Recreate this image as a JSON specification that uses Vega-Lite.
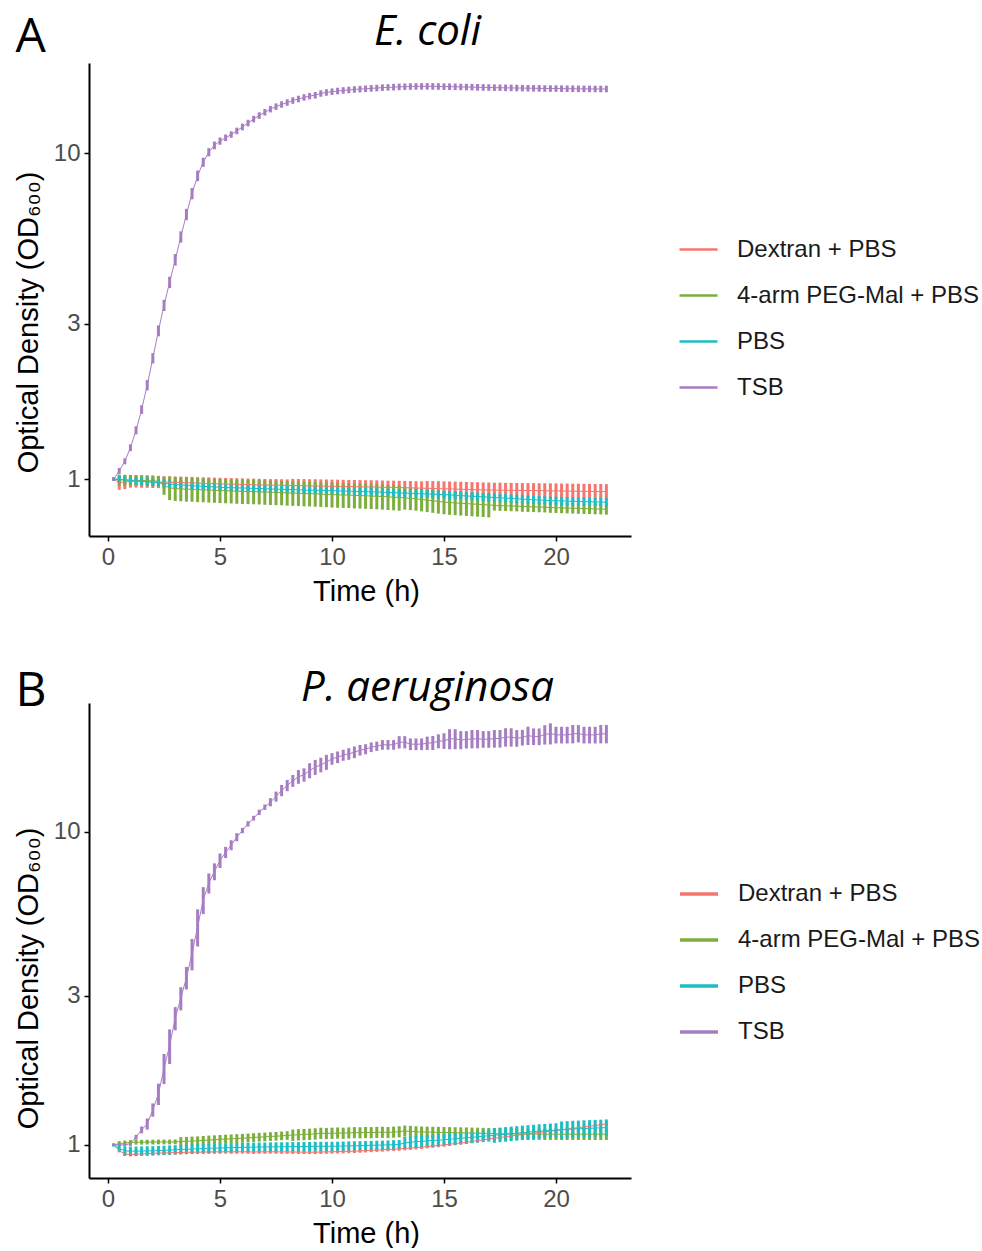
{
"$schema": "https://vega.github.io/schema/vega-lite/v6.json",
"background": "white",
"padding": {"left": 14, "top": 10, "right": 0, "bottom": 0},
"config": {
 "view": {"stroke": null},
 "axis": {"grid": false, "domainColor": "#000", "domainWidth": 2, "tickColor": "#000", "tickWidth": 1.5, "tickSize": 5, "labelColor": "#4D4D4D", "labelFont": "Liberation Sans", "labelFontSize": 24, "labelPadding": 4, "labelFlush": false, "labelOverlap": false, "titleFont": "Liberation Sans", "titleFontSize": 29, "titleFontWeight": "normal", "titleColor": "#000"},
 "legend": {"symbolType": "stroke", "symbolSize": 1444, "symbolStrokeWidth": 3, "labelFont": "Liberation Sans", "labelFontSize": 24, "labelColor": "#1A1A1A", "labelLimit": 400, "labelOffset": 18, "rowPadding": 13, "padding": 0, "symbolOpacity": 1}
},
"datasets": {
"ec": [
{"g":"D","t":0.25,"m":1,"e":0.012},{"g":"D","t":0.5,"m":0.975,"e":0.048},{"g":"D","t":0.75,"m":0.98,"e":0.048},{"g":"D","t":1,"m":0.983,"e":0.042},{"g":"D","t":1.25,"m":0.984,"e":0.042},{"g":"D","t":1.5,"m":0.983,"e":0.042},{"g":"D","t":1.75,"m":0.982,"e":0.042},{"g":"D","t":2,"m":0.981,"e":0.042},{"g":"D","t":2.25,"m":0.98,"e":0.042},{"g":"D","t":2.5,"m":0.979,"e":0.042},
{"g":"D","t":2.75,"m":0.978,"e":0.042},{"g":"D","t":3,"m":0.977,"e":0.042},{"g":"D","t":3.25,"m":0.976,"e":0.042},{"g":"D","t":3.5,"m":0.975,"e":0.042},{"g":"D","t":3.75,"m":0.974,"e":0.042},{"g":"D","t":4,"m":0.972,"e":0.042},{"g":"D","t":4.25,"m":0.971,"e":0.042},{"g":"D","t":4.5,"m":0.97,"e":0.042},{"g":"D","t":4.75,"m":0.968,"e":0.042},{"g":"D","t":5,"m":0.967,"e":0.042},
{"g":"D","t":5.25,"m":0.966,"e":0.042},{"g":"D","t":5.5,"m":0.965,"e":0.042},{"g":"D","t":5.75,"m":0.964,"e":0.042},{"g":"D","t":6,"m":0.963,"e":0.042},{"g":"D","t":6.25,"m":0.962,"e":0.042},{"g":"D","t":6.5,"m":0.961,"e":0.042},{"g":"D","t":6.75,"m":0.96,"e":0.042},{"g":"D","t":7,"m":0.959,"e":0.042},{"g":"D","t":7.25,"m":0.958,"e":0.042},{"g":"D","t":7.5,"m":0.958,"e":0.042},
{"g":"D","t":7.75,"m":0.957,"e":0.042},{"g":"D","t":8,"m":0.956,"e":0.042},{"g":"D","t":8.25,"m":0.955,"e":0.046},{"g":"D","t":8.5,"m":0.955,"e":0.046},{"g":"D","t":8.75,"m":0.954,"e":0.046},{"g":"D","t":9,"m":0.953,"e":0.046},{"g":"D","t":9.25,"m":0.953,"e":0.046},{"g":"D","t":9.5,"m":0.952,"e":0.046},{"g":"D","t":9.75,"m":0.951,"e":0.046},{"g":"D","t":10,"m":0.95,"e":0.046},
{"g":"D","t":10.25,"m":0.95,"e":0.046},{"g":"D","t":10.5,"m":0.949,"e":0.046},{"g":"D","t":10.75,"m":0.948,"e":0.046},{"g":"D","t":11,"m":0.948,"e":0.046},{"g":"D","t":11.25,"m":0.947,"e":0.046},{"g":"D","t":11.5,"m":0.946,"e":0.046},{"g":"D","t":11.75,"m":0.946,"e":0.046},{"g":"D","t":12,"m":0.945,"e":0.046},{"g":"D","t":12.25,"m":0.944,"e":0.046},{"g":"D","t":12.5,"m":0.943,"e":0.046},
{"g":"D","t":12.75,"m":0.943,"e":0.046},{"g":"D","t":13,"m":0.942,"e":0.046},{"g":"D","t":13.25,"m":0.941,"e":0.046},{"g":"D","t":13.5,"m":0.94,"e":0.046},{"g":"D","t":13.75,"m":0.939,"e":0.046},{"g":"D","t":14,"m":0.938,"e":0.046},{"g":"D","t":14.25,"m":0.937,"e":0.05},{"g":"D","t":14.5,"m":0.936,"e":0.05},{"g":"D","t":14.75,"m":0.935,"e":0.05},{"g":"D","t":15,"m":0.934,"e":0.05},
{"g":"D","t":15.25,"m":0.933,"e":0.05},{"g":"D","t":15.5,"m":0.932,"e":0.05},{"g":"D","t":15.75,"m":0.931,"e":0.05},{"g":"D","t":16,"m":0.93,"e":0.05},{"g":"D","t":16.25,"m":0.929,"e":0.05},{"g":"D","t":16.5,"m":0.928,"e":0.05},{"g":"D","t":16.75,"m":0.927,"e":0.05},{"g":"D","t":17,"m":0.926,"e":0.05},{"g":"D","t":17.25,"m":0.925,"e":0.05},{"g":"D","t":17.5,"m":0.925,"e":0.05},
{"g":"D","t":17.75,"m":0.924,"e":0.05},{"g":"D","t":18,"m":0.924,"e":0.05},{"g":"D","t":18.25,"m":0.923,"e":0.05},{"g":"D","t":18.5,"m":0.923,"e":0.05},{"g":"D","t":18.75,"m":0.922,"e":0.05},{"g":"D","t":19,"m":0.922,"e":0.05},{"g":"D","t":19.25,"m":0.921,"e":0.05},{"g":"D","t":19.5,"m":0.921,"e":0.05},{"g":"D","t":19.75,"m":0.92,"e":0.05},{"g":"D","t":20,"m":0.92,"e":0.05},
{"g":"D","t":20.25,"m":0.919,"e":0.05},{"g":"D","t":20.5,"m":0.919,"e":0.05},{"g":"D","t":20.75,"m":0.918,"e":0.05},{"g":"D","t":21,"m":0.918,"e":0.05},{"g":"D","t":21.25,"m":0.917,"e":0.05},{"g":"D","t":21.5,"m":0.917,"e":0.05},{"g":"D","t":21.75,"m":0.916,"e":0.05},{"g":"D","t":22,"m":0.916,"e":0.05},{"g":"D","t":22.25,"m":0.915,"e":0.05},
{"g":"P","t":0.25,"m":1,"e":0.01},{"g":"P","t":0.5,"m":0.995,"e":0.038},{"g":"P","t":0.75,"m":0.993,"e":0.038},{"g":"P","t":1,"m":0.992,"e":0.038},{"g":"P","t":1.25,"m":0.991,"e":0.038},{"g":"P","t":1.5,"m":0.99,"e":0.038},{"g":"P","t":1.75,"m":0.989,"e":0.038},{"g":"P","t":2,"m":0.988,"e":0.038},{"g":"P","t":2.25,"m":0.985,"e":0.038},{"g":"P","t":2.5,"m":0.955,"e":0.06},
{"g":"P","t":2.75,"m":0.94,"e":0.078},{"g":"P","t":3,"m":0.935,"e":0.078},{"g":"P","t":3.25,"m":0.933,"e":0.078},{"g":"P","t":3.5,"m":0.931,"e":0.078},{"g":"P","t":3.75,"m":0.93,"e":0.078},{"g":"P","t":4,"m":0.928,"e":0.078},{"g":"P","t":4.25,"m":0.927,"e":0.078},{"g":"P","t":4.5,"m":0.925,"e":0.078},{"g":"P","t":4.75,"m":0.924,"e":0.078},{"g":"P","t":5,"m":0.922,"e":0.078},
{"g":"P","t":5.25,"m":0.921,"e":0.078},{"g":"P","t":5.5,"m":0.92,"e":0.078},{"g":"P","t":5.75,"m":0.918,"e":0.078},{"g":"P","t":6,"m":0.917,"e":0.078},{"g":"P","t":6.25,"m":0.916,"e":0.078},{"g":"P","t":6.5,"m":0.915,"e":0.078},{"g":"P","t":6.75,"m":0.914,"e":0.078},{"g":"P","t":7,"m":0.912,"e":0.078},{"g":"P","t":7.25,"m":0.911,"e":0.078},{"g":"P","t":7.5,"m":0.91,"e":0.078},
{"g":"P","t":7.75,"m":0.909,"e":0.078},{"g":"P","t":8,"m":0.907,"e":0.078},{"g":"P","t":8.25,"m":0.906,"e":0.078},{"g":"P","t":8.5,"m":0.905,"e":0.078},{"g":"P","t":8.75,"m":0.903,"e":0.078},{"g":"P","t":9,"m":0.902,"e":0.078},{"g":"P","t":9.25,"m":0.901,"e":0.078},{"g":"P","t":9.5,"m":0.899,"e":0.078},{"g":"P","t":9.75,"m":0.898,"e":0.078},{"g":"P","t":10,"m":0.896,"e":0.078},
{"g":"P","t":10.25,"m":0.895,"e":0.078},{"g":"P","t":10.5,"m":0.894,"e":0.078},{"g":"P","t":10.75,"m":0.893,"e":0.078},{"g":"P","t":11,"m":0.891,"e":0.078},{"g":"P","t":11.25,"m":0.89,"e":0.078},{"g":"P","t":11.5,"m":0.889,"e":0.078},{"g":"P","t":11.75,"m":0.887,"e":0.078},{"g":"P","t":12,"m":0.886,"e":0.078},{"g":"P","t":12.25,"m":0.884,"e":0.078},{"g":"P","t":12.5,"m":0.882,"e":0.078},
{"g":"P","t":12.75,"m":0.88,"e":0.078},{"g":"P","t":13,"m":0.878,"e":0.078},{"g":"P","t":13.25,"m":0.876,"e":0.07},{"g":"P","t":13.5,"m":0.873,"e":0.07},{"g":"P","t":13.75,"m":0.87,"e":0.07},{"g":"P","t":14,"m":0.866,"e":0.07},{"g":"P","t":14.25,"m":0.862,"e":0.07},{"g":"P","t":14.5,"m":0.858,"e":0.07},{"g":"P","t":14.75,"m":0.854,"e":0.07},{"g":"P","t":15,"m":0.85,"e":0.07},
{"g":"P","t":15.25,"m":0.847,"e":0.07},{"g":"P","t":15.5,"m":0.845,"e":0.07},{"g":"P","t":15.75,"m":0.843,"e":0.07},{"g":"P","t":16,"m":0.841,"e":0.07},{"g":"P","t":16.25,"m":0.839,"e":0.07},{"g":"P","t":16.5,"m":0.837,"e":0.07},{"g":"P","t":16.75,"m":0.835,"e":0.07},{"g":"P","t":17,"m":0.833,"e":0.07},{"g":"P","t":17.25,"m":0.831,"e":0.03},{"g":"P","t":17.5,"m":0.829,"e":0.03},
{"g":"P","t":17.75,"m":0.828,"e":0.03},{"g":"P","t":18,"m":0.827,"e":0.03},{"g":"P","t":18.25,"m":0.826,"e":0.03},{"g":"P","t":18.5,"m":0.824,"e":0.03},{"g":"P","t":18.75,"m":0.823,"e":0.03},{"g":"P","t":19,"m":0.822,"e":0.03},{"g":"P","t":19.25,"m":0.821,"e":0.03},{"g":"P","t":19.5,"m":0.82,"e":0.03},{"g":"P","t":19.75,"m":0.818,"e":0.03},{"g":"P","t":20,"m":0.817,"e":0.03},
{"g":"P","t":20.25,"m":0.816,"e":0.03},{"g":"P","t":20.5,"m":0.815,"e":0.03},{"g":"P","t":20.75,"m":0.814,"e":0.03},{"g":"P","t":21,"m":0.813,"e":0.03},{"g":"P","t":21.25,"m":0.812,"e":0.03},{"g":"P","t":21.5,"m":0.811,"e":0.03},{"g":"P","t":21.75,"m":0.81,"e":0.03},{"g":"P","t":22,"m":0.809,"e":0.03},{"g":"P","t":22.25,"m":0.808,"e":0.03},
{"g":"S","t":0.25,"m":1,"e":0.012},{"g":"S","t":0.5,"m":0.998,"e":0.025},{"g":"S","t":0.75,"m":0.995,"e":0.025},{"g":"S","t":1,"m":0.991,"e":0.025},{"g":"S","t":1.25,"m":0.988,"e":0.025},{"g":"S","t":1.5,"m":0.985,"e":0.025},{"g":"S","t":1.75,"m":0.981,"e":0.025},{"g":"S","t":2,"m":0.977,"e":0.025},{"g":"S","t":2.25,"m":0.974,"e":0.025},{"g":"S","t":2.5,"m":0.97,"e":0.025},
{"g":"S","t":2.75,"m":0.966,"e":0.025},{"g":"S","t":3,"m":0.962,"e":0.025},{"g":"S","t":3.25,"m":0.96,"e":0.025},{"g":"S","t":3.5,"m":0.958,"e":0.025},{"g":"S","t":3.75,"m":0.955,"e":0.025},{"g":"S","t":4,"m":0.952,"e":0.025},{"g":"S","t":4.25,"m":0.95,"e":0.025},{"g":"S","t":4.5,"m":0.948,"e":0.025},{"g":"S","t":4.75,"m":0.946,"e":0.025},{"g":"S","t":5,"m":0.944,"e":0.025},
{"g":"S","t":5.25,"m":0.942,"e":0.025},{"g":"S","t":5.5,"m":0.941,"e":0.025},{"g":"S","t":5.75,"m":0.94,"e":0.025},{"g":"S","t":6,"m":0.939,"e":0.025},{"g":"S","t":6.25,"m":0.938,"e":0.025},{"g":"S","t":6.5,"m":0.936,"e":0.025},{"g":"S","t":6.75,"m":0.935,"e":0.025},{"g":"S","t":7,"m":0.934,"e":0.025},{"g":"S","t":7.25,"m":0.933,"e":0.025},{"g":"S","t":7.5,"m":0.931,"e":0.025},
{"g":"S","t":7.75,"m":0.93,"e":0.025},{"g":"S","t":8,"m":0.929,"e":0.025},{"g":"S","t":8.25,"m":0.928,"e":0.025},{"g":"S","t":8.5,"m":0.927,"e":0.025},{"g":"S","t":8.75,"m":0.926,"e":0.025},{"g":"S","t":9,"m":0.925,"e":0.025},{"g":"S","t":9.25,"m":0.924,"e":0.025},{"g":"S","t":9.5,"m":0.923,"e":0.025},{"g":"S","t":9.75,"m":0.922,"e":0.025},{"g":"S","t":10,"m":0.921,"e":0.025},
{"g":"S","t":10.25,"m":0.92,"e":0.025},{"g":"S","t":10.5,"m":0.919,"e":0.025},{"g":"S","t":10.75,"m":0.918,"e":0.025},{"g":"S","t":11,"m":0.917,"e":0.025},{"g":"S","t":11.25,"m":0.916,"e":0.025},{"g":"S","t":11.5,"m":0.915,"e":0.025},{"g":"S","t":11.75,"m":0.914,"e":0.025},{"g":"S","t":12,"m":0.913,"e":0.025},{"g":"S","t":12.25,"m":0.911,"e":0.025},{"g":"S","t":12.5,"m":0.91,"e":0.025},
{"g":"S","t":12.75,"m":0.909,"e":0.025},{"g":"S","t":13,"m":0.907,"e":0.025},{"g":"S","t":13.25,"m":0.906,"e":0.025},{"g":"S","t":13.5,"m":0.905,"e":0.025},{"g":"S","t":13.75,"m":0.903,"e":0.025},{"g":"S","t":14,"m":0.902,"e":0.025},{"g":"S","t":14.25,"m":0.9,"e":0.025},{"g":"S","t":14.5,"m":0.899,"e":0.025},{"g":"S","t":14.75,"m":0.897,"e":0.025},{"g":"S","t":15,"m":0.896,"e":0.025},
{"g":"S","t":15.25,"m":0.894,"e":0.025},{"g":"S","t":15.5,"m":0.892,"e":0.025},{"g":"S","t":15.75,"m":0.89,"e":0.025},{"g":"S","t":16,"m":0.888,"e":0.025},{"g":"S","t":16.25,"m":0.886,"e":0.025},{"g":"S","t":16.5,"m":0.884,"e":0.025},{"g":"S","t":16.75,"m":0.882,"e":0.025},{"g":"S","t":17,"m":0.88,"e":0.025},{"g":"S","t":17.25,"m":0.878,"e":0.025},{"g":"S","t":17.5,"m":0.876,"e":0.025},
{"g":"S","t":17.75,"m":0.874,"e":0.025},{"g":"S","t":18,"m":0.872,"e":0.025},{"g":"S","t":18.25,"m":0.87,"e":0.025},{"g":"S","t":18.5,"m":0.868,"e":0.025},{"g":"S","t":18.75,"m":0.866,"e":0.025},{"g":"S","t":19,"m":0.864,"e":0.025},{"g":"S","t":19.25,"m":0.862,"e":0.025},{"g":"S","t":19.5,"m":0.861,"e":0.025},{"g":"S","t":19.75,"m":0.859,"e":0.025},{"g":"S","t":20,"m":0.858,"e":0.025},
{"g":"S","t":20.25,"m":0.857,"e":0.025},{"g":"S","t":20.5,"m":0.856,"e":0.025},{"g":"S","t":20.75,"m":0.855,"e":0.025},{"g":"S","t":21,"m":0.854,"e":0.025},{"g":"S","t":21.25,"m":0.853,"e":0.025},{"g":"S","t":21.5,"m":0.852,"e":0.025},{"g":"S","t":21.75,"m":0.851,"e":0.025},{"g":"S","t":22,"m":0.85,"e":0.025},{"g":"S","t":22.25,"m":0.849,"e":0.025},
{"g":"T","t":0.25,"m":1,"e":0.012},{"g":"T","t":0.5,"m":1.06,"e":0.022},{"g":"T","t":0.75,"m":1.134,"e":0.024},{"g":"T","t":1,"m":1.248,"e":0.03},{"g":"T","t":1.25,"m":1.412,"e":0.04},{"g":"T","t":1.5,"m":1.635,"e":0.05},{"g":"T","t":1.75,"m":1.942,"e":0.07},{"g":"T","t":2,"m":2.349,"e":0.085},{"g":"T","t":2.25,"m":2.852,"e":0.11},{"g":"T","t":2.5,"m":3.413,"e":0.135},
{"g":"T","t":2.75,"m":4.017,"e":0.16},{"g":"T","t":3,"m":4.71,"e":0.19},{"g":"T","t":3.25,"m":5.536,"e":0.22},{"g":"T","t":3.5,"m":6.486,"e":0.26},{"g":"T","t":3.75,"m":7.516,"e":0.3},{"g":"T","t":4,"m":8.522,"e":0.32},{"g":"T","t":4.25,"m":9.377,"e":0.3},{"g":"T","t":4.5,"m":10.066,"e":0.29},{"g":"T","t":4.75,"m":10.563,"e":0.29},{"g":"T","t":5,"m":10.89,"e":0.28},
{"g":"T","t":5.25,"m":11.145,"e":0.26},{"g":"T","t":5.5,"m":11.405,"e":0.26},{"g":"T","t":5.75,"m":11.7,"e":0.27},{"g":"T","t":6,"m":12.03,"e":0.28},{"g":"T","t":6.25,"m":12.37,"e":0.285},{"g":"T","t":6.5,"m":12.72,"e":0.29},{"g":"T","t":6.75,"m":13.04,"e":0.3},{"g":"T","t":7,"m":13.35,"e":0.31},{"g":"T","t":7.25,"m":13.64,"e":0.31},{"g":"T","t":7.5,"m":13.89,"e":0.32},
{"g":"T","t":7.75,"m":14.1,"e":0.32},{"g":"T","t":8,"m":14.3,"e":0.33},{"g":"T","t":8.25,"m":14.5,"e":0.33},{"g":"T","t":8.5,"m":14.66,"e":0.34},{"g":"T","t":8.75,"m":14.82,"e":0.34},{"g":"T","t":9,"m":14.96,"e":0.34},{"g":"T","t":9.25,"m":15.05,"e":0.35},{"g":"T","t":9.5,"m":15.24,"e":0.35},{"g":"T","t":9.75,"m":15.35,"e":0.355},{"g":"T","t":10,"m":15.44,"e":0.355},
{"g":"T","t":10.25,"m":15.51,"e":0.36},{"g":"T","t":10.5,"m":15.57,"e":0.36},{"g":"T","t":10.75,"m":15.63,"e":0.36},{"g":"T","t":11,"m":15.68,"e":0.36},{"g":"T","t":11.25,"m":15.72,"e":0.36},{"g":"T","t":11.5,"m":15.76,"e":0.365},{"g":"T","t":11.75,"m":15.8,"e":0.365},{"g":"T","t":12,"m":15.84,"e":0.365},{"g":"T","t":12.25,"m":15.88,"e":0.365},{"g":"T","t":12.5,"m":15.91,"e":0.365},
{"g":"T","t":12.75,"m":15.94,"e":0.37},{"g":"T","t":13,"m":15.97,"e":0.37},{"g":"T","t":13.25,"m":15.99,"e":0.37},{"g":"T","t":13.5,"m":16.01,"e":0.37},{"g":"T","t":13.75,"m":16.02,"e":0.37},{"g":"T","t":14,"m":16.03,"e":0.37},{"g":"T","t":14.25,"m":16.03,"e":0.37},{"g":"T","t":14.5,"m":16.02,"e":0.37},{"g":"T","t":14.75,"m":16.01,"e":0.37},{"g":"T","t":15,"m":16,"e":0.37},
{"g":"T","t":15.25,"m":15.99,"e":0.37},{"g":"T","t":15.5,"m":15.98,"e":0.37},{"g":"T","t":15.75,"m":15.96,"e":0.37},{"g":"T","t":16,"m":15.95,"e":0.37},{"g":"T","t":16.25,"m":15.94,"e":0.37},{"g":"T","t":16.5,"m":15.92,"e":0.37},{"g":"T","t":16.75,"m":15.91,"e":0.37},{"g":"T","t":17,"m":15.9,"e":0.365},{"g":"T","t":17.25,"m":15.88,"e":0.365},{"g":"T","t":17.5,"m":15.87,"e":0.365},
{"g":"T","t":17.75,"m":15.86,"e":0.365},{"g":"T","t":18,"m":15.85,"e":0.365},{"g":"T","t":18.25,"m":15.84,"e":0.365},{"g":"T","t":18.5,"m":15.83,"e":0.365},{"g":"T","t":18.75,"m":15.82,"e":0.365},{"g":"T","t":19,"m":15.81,"e":0.365},{"g":"T","t":19.25,"m":15.8,"e":0.365},{"g":"T","t":19.5,"m":15.79,"e":0.365},{"g":"T","t":19.75,"m":15.78,"e":0.365},{"g":"T","t":20,"m":15.78,"e":0.365},
{"g":"T","t":20.25,"m":15.77,"e":0.365},{"g":"T","t":20.5,"m":15.76,"e":0.365},{"g":"T","t":20.75,"m":15.76,"e":0.365},{"g":"T","t":21,"m":15.75,"e":0.365},{"g":"T","t":21.25,"m":15.75,"e":0.365},{"g":"T","t":21.5,"m":15.74,"e":0.365},{"g":"T","t":21.75,"m":15.74,"e":0.365},{"g":"T","t":22,"m":15.73,"e":0.365},{"g":"T","t":22.25,"m":15.73,"e":0.365}
],
"pa": [
{"g":"D","t":0.25,"m":1,"e":0.008},{"g":"D","t":0.5,"m":0.96,"e":0.013},{"g":"D","t":0.75,"m":0.935,"e":0.013},{"g":"D","t":1,"m":0.932,"e":0.013},{"g":"D","t":1.25,"m":0.934,"e":0.013},{"g":"D","t":1.5,"m":0.936,"e":0.013},{"g":"D","t":1.75,"m":0.938,"e":0.013},{"g":"D","t":2,"m":0.94,"e":0.013},{"g":"D","t":2.25,"m":0.942,"e":0.013},{"g":"D","t":2.5,"m":0.943,"e":0.013},
{"g":"D","t":2.75,"m":0.944,"e":0.013},{"g":"D","t":3,"m":0.945,"e":0.013},{"g":"D","t":3.25,"m":0.946,"e":0.013},{"g":"D","t":3.5,"m":0.947,"e":0.013},{"g":"D","t":3.75,"m":0.948,"e":0.013},{"g":"D","t":4,"m":0.948,"e":0.013},{"g":"D","t":4.25,"m":0.949,"e":0.013},{"g":"D","t":4.5,"m":0.949,"e":0.013},{"g":"D","t":4.75,"m":0.95,"e":0.013},{"g":"D","t":5,"m":0.95,"e":0.013},
{"g":"D","t":5.25,"m":0.951,"e":0.013},{"g":"D","t":5.5,"m":0.95,"e":0.013},{"g":"D","t":5.75,"m":0.95,"e":0.013},{"g":"D","t":6,"m":0.951,"e":0.013},{"g":"D","t":6.25,"m":0.95,"e":0.013},{"g":"D","t":6.5,"m":0.949,"e":0.013},{"g":"D","t":6.75,"m":0.95,"e":0.013},{"g":"D","t":7,"m":0.95,"e":0.013},{"g":"D","t":7.25,"m":0.951,"e":0.013},{"g":"D","t":7.5,"m":0.95,"e":0.013},
{"g":"D","t":7.75,"m":0.95,"e":0.013},{"g":"D","t":8,"m":0.95,"e":0.013},{"g":"D","t":8.25,"m":0.949,"e":0.013},{"g":"D","t":8.5,"m":0.949,"e":0.013},{"g":"D","t":8.75,"m":0.948,"e":0.013},{"g":"D","t":9,"m":0.948,"e":0.013},{"g":"D","t":9.25,"m":0.948,"e":0.013},{"g":"D","t":9.5,"m":0.949,"e":0.013},{"g":"D","t":9.75,"m":0.95,"e":0.013},{"g":"D","t":10,"m":0.951,"e":0.013},
{"g":"D","t":10.25,"m":0.952,"e":0.013},{"g":"D","t":10.5,"m":0.953,"e":0.013},{"g":"D","t":10.75,"m":0.954,"e":0.013},{"g":"D","t":11,"m":0.955,"e":0.013},{"g":"D","t":11.25,"m":0.957,"e":0.013},{"g":"D","t":11.5,"m":0.959,"e":0.013},{"g":"D","t":11.75,"m":0.961,"e":0.013},{"g":"D","t":12,"m":0.963,"e":0.013},{"g":"D","t":12.25,"m":0.965,"e":0.013},{"g":"D","t":12.5,"m":0.967,"e":0.013},
{"g":"D","t":12.75,"m":0.969,"e":0.013},{"g":"D","t":13,"m":0.971,"e":0.013},{"g":"D","t":13.25,"m":0.974,"e":0.013},{"g":"D","t":13.5,"m":0.977,"e":0.013},{"g":"D","t":13.75,"m":0.98,"e":0.013},{"g":"D","t":14,"m":0.984,"e":0.013},{"g":"D","t":14.25,"m":0.988,"e":0.013},{"g":"D","t":14.5,"m":0.992,"e":0.013},{"g":"D","t":14.75,"m":0.996,"e":0.013},{"g":"D","t":15,"m":1,"e":0.013},
{"g":"D","t":15.25,"m":1.005,"e":0.013},{"g":"D","t":15.5,"m":1.01,"e":0.013},{"g":"D","t":15.75,"m":1.015,"e":0.013},{"g":"D","t":16,"m":1.02,"e":0.013},{"g":"D","t":16.25,"m":1.026,"e":0.013},{"g":"D","t":16.5,"m":1.032,"e":0.013},{"g":"D","t":16.75,"m":1.038,"e":0.013},{"g":"D","t":17,"m":1.044,"e":0.013},{"g":"D","t":17.25,"m":1.05,"e":0.013},{"g":"D","t":17.5,"m":1.056,"e":0.013},
{"g":"D","t":17.75,"m":1.062,"e":0.013},{"g":"D","t":18,"m":1.068,"e":0.013},{"g":"D","t":18.25,"m":1.074,"e":0.013},{"g":"D","t":18.5,"m":1.079,"e":0.013},{"g":"D","t":18.75,"m":1.085,"e":0.013},{"g":"D","t":19,"m":1.09,"e":0.013},{"g":"D","t":19.25,"m":1.096,"e":0.013},{"g":"D","t":19.5,"m":1.101,"e":0.013},{"g":"D","t":19.75,"m":1.107,"e":0.013},{"g":"D","t":20,"m":1.112,"e":0.013},
{"g":"D","t":20.25,"m":1.118,"e":0.013},{"g":"D","t":20.5,"m":1.123,"e":0.013},{"g":"D","t":20.75,"m":1.129,"e":0.013},{"g":"D","t":21,"m":1.135,"e":0.013},{"g":"D","t":21.25,"m":1.141,"e":0.013},{"g":"D","t":21.5,"m":1.147,"e":0.013},{"g":"D","t":21.75,"m":1.153,"e":0.013},{"g":"D","t":22,"m":1.16,"e":0.013},{"g":"D","t":22.25,"m":1.166,"e":0.013},
{"g":"P","t":0.25,"m":1,"e":0.008},{"g":"P","t":0.5,"m":1.01,"e":0.018},{"g":"P","t":0.75,"m":1.015,"e":0.018},{"g":"P","t":1,"m":1.018,"e":0.018},{"g":"P","t":1.25,"m":1.02,"e":0.018},{"g":"P","t":1.5,"m":1.02,"e":0.018},{"g":"P","t":1.75,"m":1.021,"e":0.018},{"g":"P","t":2,"m":1.021,"e":0.018},{"g":"P","t":2.25,"m":1.022,"e":0.018},{"g":"P","t":2.5,"m":1.022,"e":0.018},
{"g":"P","t":2.75,"m":1.022,"e":0.018},{"g":"P","t":3,"m":1.023,"e":0.018},{"g":"P","t":3.25,"m":1.025,"e":0.034},{"g":"P","t":3.5,"m":1.027,"e":0.034},{"g":"P","t":3.75,"m":1.029,"e":0.034},{"g":"P","t":4,"m":1.031,"e":0.034},{"g":"P","t":4.25,"m":1.034,"e":0.034},{"g":"P","t":4.5,"m":1.037,"e":0.034},{"g":"P","t":4.75,"m":1.039,"e":0.034},{"g":"P","t":5,"m":1.042,"e":0.034},
{"g":"P","t":5.25,"m":1.044,"e":0.034},{"g":"P","t":5.5,"m":1.046,"e":0.034},{"g":"P","t":5.75,"m":1.048,"e":0.034},{"g":"P","t":6,"m":1.05,"e":0.034},{"g":"P","t":6.25,"m":1.053,"e":0.034},{"g":"P","t":6.5,"m":1.056,"e":0.034},{"g":"P","t":6.75,"m":1.059,"e":0.034},{"g":"P","t":7,"m":1.061,"e":0.034},{"g":"P","t":7.25,"m":1.064,"e":0.034},{"g":"P","t":7.5,"m":1.066,"e":0.034},
{"g":"P","t":7.75,"m":1.069,"e":0.034},{"g":"P","t":8,"m":1.072,"e":0.034},{"g":"P","t":8.25,"m":1.075,"e":0.045},{"g":"P","t":8.5,"m":1.078,"e":0.045},{"g":"P","t":8.75,"m":1.08,"e":0.045},{"g":"P","t":9,"m":1.082,"e":0.045},{"g":"P","t":9.25,"m":1.085,"e":0.045},{"g":"P","t":9.5,"m":1.09,"e":0.045},{"g":"P","t":9.75,"m":1.088,"e":0.045},{"g":"P","t":10,"m":1.09,"e":0.045},
{"g":"P","t":10.25,"m":1.092,"e":0.045},{"g":"P","t":10.5,"m":1.09,"e":0.045},{"g":"P","t":10.75,"m":1.093,"e":0.045},{"g":"P","t":11,"m":1.095,"e":0.045},{"g":"P","t":11.25,"m":1.094,"e":0.045},{"g":"P","t":11.5,"m":1.096,"e":0.045},{"g":"P","t":11.75,"m":1.095,"e":0.045},{"g":"P","t":12,"m":1.097,"e":0.045},{"g":"P","t":12.25,"m":1.098,"e":0.045},{"g":"P","t":12.5,"m":1.096,"e":0.045},
{"g":"P","t":12.75,"m":1.099,"e":0.045},{"g":"P","t":13,"m":1.102,"e":0.045},{"g":"P","t":13.25,"m":1.108,"e":0.045},{"g":"P","t":13.5,"m":1.105,"e":0.045},{"g":"P","t":13.75,"m":1.102,"e":0.045},{"g":"P","t":14,"m":1.1,"e":0.045},{"g":"P","t":14.25,"m":1.099,"e":0.045},{"g":"P","t":14.5,"m":1.098,"e":0.045},{"g":"P","t":14.75,"m":1.097,"e":0.045},{"g":"P","t":15,"m":1.096,"e":0.045},
{"g":"P","t":15.25,"m":1.095,"e":0.045},{"g":"P","t":15.5,"m":1.094,"e":0.045},{"g":"P","t":15.75,"m":1.093,"e":0.045},{"g":"P","t":16,"m":1.092,"e":0.045},{"g":"P","t":16.25,"m":1.091,"e":0.045},{"g":"P","t":16.5,"m":1.09,"e":0.045},{"g":"P","t":16.75,"m":1.089,"e":0.045},{"g":"P","t":17,"m":1.088,"e":0.045},{"g":"P","t":17.25,"m":1.087,"e":0.045},{"g":"P","t":17.5,"m":1.086,"e":0.045},
{"g":"P","t":17.75,"m":1.085,"e":0.045},{"g":"P","t":18,"m":1.085,"e":0.045},{"g":"P","t":18.25,"m":1.084,"e":0.045},{"g":"P","t":18.5,"m":1.084,"e":0.045},{"g":"P","t":18.75,"m":1.083,"e":0.045},{"g":"P","t":19,"m":1.083,"e":0.045},{"g":"P","t":19.25,"m":1.083,"e":0.045},{"g":"P","t":19.5,"m":1.082,"e":0.045},{"g":"P","t":19.75,"m":1.082,"e":0.045},{"g":"P","t":20,"m":1.082,"e":0.045},
{"g":"P","t":20.25,"m":1.082,"e":0.045},{"g":"P","t":20.5,"m":1.082,"e":0.045},{"g":"P","t":20.75,"m":1.082,"e":0.045},{"g":"P","t":21,"m":1.082,"e":0.045},{"g":"P","t":21.25,"m":1.082,"e":0.045},{"g":"P","t":21.5,"m":1.082,"e":0.045},{"g":"P","t":21.75,"m":1.082,"e":0.045},{"g":"P","t":22,"m":1.082,"e":0.045},{"g":"P","t":22.25,"m":1.082,"e":0.045},
{"g":"S","t":0.25,"m":1,"e":0.012},{"g":"S","t":0.5,"m":0.975,"e":0.02},{"g":"S","t":0.75,"m":0.957,"e":0.033},{"g":"S","t":1,"m":0.955,"e":0.033},{"g":"S","t":1.25,"m":0.955,"e":0.033},{"g":"S","t":1.5,"m":0.956,"e":0.033},{"g":"S","t":1.75,"m":0.957,"e":0.033},{"g":"S","t":2,"m":0.958,"e":0.033},{"g":"S","t":2.25,"m":0.96,"e":0.033},{"g":"S","t":2.5,"m":0.961,"e":0.033},
{"g":"S","t":2.75,"m":0.963,"e":0.033},{"g":"S","t":3,"m":0.965,"e":0.033},{"g":"S","t":3.25,"m":0.967,"e":0.033},{"g":"S","t":3.5,"m":0.968,"e":0.033},{"g":"S","t":3.75,"m":0.97,"e":0.033},{"g":"S","t":4,"m":0.972,"e":0.033},{"g":"S","t":4.25,"m":0.973,"e":0.033},{"g":"S","t":4.5,"m":0.975,"e":0.033},{"g":"S","t":4.75,"m":0.977,"e":0.033},{"g":"S","t":5,"m":0.978,"e":0.033},
{"g":"S","t":5.25,"m":0.979,"e":0.033},{"g":"S","t":5.5,"m":0.98,"e":0.033},{"g":"S","t":5.75,"m":0.981,"e":0.033},{"g":"S","t":6,"m":0.982,"e":0.033},{"g":"S","t":6.25,"m":0.983,"e":0.033},{"g":"S","t":6.5,"m":0.984,"e":0.033},{"g":"S","t":6.75,"m":0.985,"e":0.033},{"g":"S","t":7,"m":0.985,"e":0.033},{"g":"S","t":7.25,"m":0.986,"e":0.033},{"g":"S","t":7.5,"m":0.986,"e":0.033},
{"g":"S","t":7.75,"m":0.987,"e":0.033},{"g":"S","t":8,"m":0.987,"e":0.033},{"g":"S","t":8.25,"m":0.988,"e":0.033},{"g":"S","t":8.5,"m":0.988,"e":0.033},{"g":"S","t":8.75,"m":0.989,"e":0.033},{"g":"S","t":9,"m":0.989,"e":0.033},{"g":"S","t":9.25,"m":0.99,"e":0.033},{"g":"S","t":9.5,"m":0.99,"e":0.033},{"g":"S","t":9.75,"m":0.99,"e":0.033},{"g":"S","t":10,"m":0.991,"e":0.033},
{"g":"S","t":10.25,"m":0.991,"e":0.033},{"g":"S","t":10.5,"m":0.992,"e":0.033},{"g":"S","t":10.75,"m":0.993,"e":0.033},{"g":"S","t":11,"m":0.994,"e":0.033},{"g":"S","t":11.25,"m":0.995,"e":0.033},{"g":"S","t":11.5,"m":0.996,"e":0.033},{"g":"S","t":11.75,"m":0.997,"e":0.033},{"g":"S","t":12,"m":0.998,"e":0.033},{"g":"S","t":12.25,"m":0.999,"e":0.033},{"g":"S","t":12.5,"m":1,"e":0.033},
{"g":"S","t":12.75,"m":1.002,"e":0.033},{"g":"S","t":13,"m":1.004,"e":0.033},{"g":"S","t":13.25,"m":1.015,"e":0.045},{"g":"S","t":13.5,"m":1.02,"e":0.045},{"g":"S","t":13.75,"m":1.024,"e":0.045},{"g":"S","t":14,"m":1.027,"e":0.045},{"g":"S","t":14.25,"m":1.03,"e":0.045},{"g":"S","t":14.5,"m":1.033,"e":0.045},{"g":"S","t":14.75,"m":1.036,"e":0.045},{"g":"S","t":15,"m":1.039,"e":0.045},
{"g":"S","t":15.25,"m":1.042,"e":0.045},{"g":"S","t":15.5,"m":1.046,"e":0.045},{"g":"S","t":15.75,"m":1.05,"e":0.045},{"g":"S","t":16,"m":1.054,"e":0.045},{"g":"S","t":16.25,"m":1.058,"e":0.045},{"g":"S","t":16.5,"m":1.062,"e":0.045},{"g":"S","t":16.75,"m":1.066,"e":0.045},{"g":"S","t":17,"m":1.07,"e":0.045},{"g":"S","t":17.25,"m":1.074,"e":0.058},{"g":"S","t":17.5,"m":1.078,"e":0.058},
{"g":"S","t":17.75,"m":1.082,"e":0.058},{"g":"S","t":18,"m":1.086,"e":0.058},{"g":"S","t":18.25,"m":1.09,"e":0.058},{"g":"S","t":18.5,"m":1.094,"e":0.058},{"g":"S","t":18.75,"m":1.098,"e":0.058},{"g":"S","t":19,"m":1.102,"e":0.058},{"g":"S","t":19.25,"m":1.106,"e":0.058},{"g":"S","t":19.5,"m":1.109,"e":0.058},{"g":"S","t":19.75,"m":1.112,"e":0.058},{"g":"S","t":20,"m":1.115,"e":0.058},
{"g":"S","t":20.25,"m":1.118,"e":0.07},{"g":"S","t":20.5,"m":1.121,"e":0.07},{"g":"S","t":20.75,"m":1.124,"e":0.07},{"g":"S","t":21,"m":1.126,"e":0.07},{"g":"S","t":21.25,"m":1.128,"e":0.07},{"g":"S","t":21.5,"m":1.13,"e":0.07},{"g":"S","t":21.75,"m":1.132,"e":0.07},{"g":"S","t":22,"m":1.134,"e":0.07},{"g":"S","t":22.25,"m":1.136,"e":0.07},
{"g":"T","t":0.25,"m":1,"e":0.007},{"g":"T","t":0.5,"m":1,"e":0.007},{"g":"T","t":0.75,"m":1,"e":0.009},{"g":"T","t":1,"m":1.01,"e":0.017},{"g":"T","t":1.25,"m":1.058,"e":0.019},{"g":"T","t":1.5,"m":1.117,"e":0.028},{"g":"T","t":1.75,"m":1.167,"e":0.048},{"g":"T","t":2,"m":1.294,"e":0.063},{"g":"T","t":2.25,"m":1.455,"e":0.114},{"g":"T","t":2.5,"m":1.758,"e":0.194},
{"g":"T","t":2.75,"m":2.076,"e":0.263},{"g":"T","t":3,"m":2.54,"e":0.216},{"g":"T","t":3.25,"m":2.94,"e":0.25},{"g":"T","t":3.5,"m":3.42,"e":0.283},{"g":"T","t":3.75,"m":4.08,"e":0.47},{"g":"T","t":4,"m":4.98,"e":0.677},{"g":"T","t":4.25,"m":6.06,"e":0.6},{"g":"T","t":4.5,"m":6.86,"e":0.505},{"g":"T","t":4.75,"m":7.47,"e":0.464},{"g":"T","t":5,"m":8.1,"e":0.429},
{"g":"T","t":5.25,"m":8.6,"e":0.356},{"g":"T","t":5.5,"m":9.07,"e":0.334},{"g":"T","t":5.75,"m":9.62,"e":0.288},{"g":"T","t":6,"m":10.1,"e":0.198},{"g":"T","t":6.25,"m":10.61,"e":0.208},{"g":"T","t":6.5,"m":11.06,"e":0.191},{"g":"T","t":6.75,"m":11.55,"e":0.226},{"g":"T","t":7,"m":11.99,"e":0.235},{"g":"T","t":7.25,"m":12.44,"e":0.372},{"g":"T","t":7.5,"m":12.97,"e":0.478},
{"g":"T","t":7.75,"m":13.56,"e":0.562},{"g":"T","t":8,"m":14.07,"e":0.583},{"g":"T","t":8.25,"m":14.56,"e":0.637},{"g":"T","t":8.5,"m":15,"e":0.76},{"g":"T","t":8.75,"m":15.21,"e":0.746},{"g":"T","t":9,"m":15.7,"e":0.868},{"g":"T","t":9.25,"m":16.09,"e":0.889},{"g":"T","t":9.5,"m":16.37,"e":0.882},{"g":"T","t":9.75,"m":16.7,"e":0.923},{"g":"T","t":10,"m":17.11,"e":0.733},
{"g":"T","t":10.25,"m":17.32,"e":0.742},{"g":"T","t":10.5,"m":17.58,"e":0.712},{"g":"T","t":10.75,"m":17.75,"e":0.76},{"g":"T","t":11,"m":17.97,"e":0.77},{"g":"T","t":11.25,"m":18.24,"e":0.714},{"g":"T","t":11.5,"m":18.37,"e":0.677},{"g":"T","t":11.75,"m":18.64,"e":0.661},{"g":"T","t":12,"m":18.78,"e":0.644},{"g":"T","t":12.25,"m":18.97,"e":0.673},{"g":"T","t":12.5,"m":18.97,"e":0.673},
{"g":"T","t":12.75,"m":18.97,"e":0.673},{"g":"T","t":13,"m":19.34,"e":0.877},{"g":"T","t":13.25,"m":19.34,"e":0.877},{"g":"T","t":13.5,"m":19.06,"e":0.816},{"g":"T","t":13.75,"m":19.06,"e":0.816},{"g":"T","t":14,"m":19.06,"e":0.816},{"g":"T","t":14.25,"m":19.2,"e":0.942},{"g":"T","t":14.5,"m":19.25,"e":0.993},{"g":"T","t":14.75,"m":19.49,"e":1.005},{"g":"T","t":15,"m":19.53,"e":1.124},
{"g":"T","t":15.25,"m":19.82,"e":1.46},{"g":"T","t":15.5,"m":19.82,"e":1.46},{"g":"T","t":15.75,"m":19.67,"e":1.304},{"g":"T","t":16,"m":19.72,"e":1.258},{"g":"T","t":16.25,"m":19.82,"e":1.337},{"g":"T","t":16.5,"m":19.82,"e":1.337},{"g":"T","t":16.75,"m":19.77,"e":1.211},{"g":"T","t":17,"m":19.77,"e":1.211},{"g":"T","t":17.25,"m":19.87,"e":1.29},{"g":"T","t":17.5,"m":19.87,"e":1.29},
{"g":"T","t":17.75,"m":20.07,"e":1.354},{"g":"T","t":18,"m":20.07,"e":1.354},{"g":"T","t":18.25,"m":19.92,"e":1.22},{"g":"T","t":18.5,"m":20.02,"e":1.152},{"g":"T","t":18.75,"m":20.31,"e":1.37},{"g":"T","t":19,"m":20.16,"e":1.235},{"g":"T","t":19.25,"m":20.16,"e":1.235},{"g":"T","t":19.5,"m":20.46,"e":1.456},{"g":"T","t":19.75,"m":20.62,"e":1.595},{"g":"T","t":20,"m":20.41,"e":1.25},
{"g":"T","t":20.25,"m":20.41,"e":1.25},{"g":"T","t":20.5,"m":20.41,"e":1.25},{"g":"T","t":20.75,"m":20.56,"e":1.387},{"g":"T","t":21,"m":20.62,"e":1.315},{"g":"T","t":21.25,"m":20.41,"e":1.25},{"g":"T","t":21.5,"m":20.41,"e":1.25},{"g":"T","t":21.75,"m":20.41,"e":1.25},{"g":"T","t":22,"m":20.56,"e":1.387},{"g":"T","t":22.25,"m":20.56,"e":1.387}
]
},
"spacing": 60,
"resolve": {"scale": {"color": "independent"}, "legend": {"color": "independent"}},
"vconcat": [
 {
  "data": {"name": "ec"},
  "width": 542, "height": 473,
  "resolve": {"axis": {"x": "independent", "y": "independent"}},
  "layer": [
   {
    "mark": {"type": "errorbar", "thickness": 3},
    "encoding": {
     "x": {"field": "t", "type": "quantitative", "scale": {"domain": [-0.85, 23.35], "nice": false, "zero": false}, "axis": {"orient": "bottom", "values": [0, 5, 10, 15, 20], "title": "Time (h)", "titlePadding": 8, "titleX": 277}},
     "y": {"field": "m", "type": "quantitative", "scale": {"type": "log", "domain": [0.669, 18.9], "nice": false}, "axis": {"orient": "left", "values": [1, 3, 10], "format": "~g", "title": "Optical Density (OD₆₀₀)", "titlePadding": 10, "titleY": 259}},
     "yError": {"field": "e"},
     "color": {"field": "g", "type": "nominal", "scale": {"domain": ["D", "P", "S", "T"], "range": ["#F5766F", "#7CAE3C", "#1BBEC3", "#A67DC1"]}, "legend": {"title": null, "orient": "none", "legendX": 589, "legendY": 166, "symbolStrokeWidth": 2.5, "labelExpr": "datum.label == 'D' ? 'Dextran + PBS' : datum.label == 'P' ? '4-arm PEG-Mal + PBS' : datum.label == 'S' ? 'PBS' : 'TSB'"}}
    }
   },
   {
    "mark": {"type": "line", "strokeWidth": 1},
    "encoding": {
     "x": {"field": "t", "type": "quantitative", "axis": {"orient": "top", "domain": false, "ticks": false, "labels": false, "grid": false, "title": "E. coli", "titleX": 338, "titleY": -19, "titleAlign": "center", "titleBaseline": "alphabetic", "titleAngle": 0, "titleFont": "Open Sans", "titleFontStyle": "italic", "titleFontSize": 42, "titleFontWeight": "normal", "titleColor": "#000"}},
     "y": {"field": "m", "type": "quantitative", "axis": {"orient": "right", "domain": false, "ticks": false, "labels": false, "grid": false, "title": "A", "titleX": -616, "titleY": -12, "titleAlign": "left", "titleBaseline": "alphabetic", "titleAngle": 0, "titleFont": "Open Sans", "titleFontSize": 48, "titleFontWeight": "normal", "titleColor": "#000"}},
     "color": {"field": "g", "type": "nominal"}
    }
   }
  ]
 },
 {
  "data": {"name": "pa"},
  "width": 542, "height": 475,
  "resolve": {"axis": {"x": "independent", "y": "independent"}},
  "layer": [
   {
    "mark": {"type": "errorbar", "thickness": 3},
    "encoding": {
     "x": {"field": "t", "type": "quantitative", "scale": {"domain": [-0.85, 23.35], "nice": false, "zero": false}, "axis": {"orient": "bottom", "values": [0, 5, 10, 15, 20], "title": "Time (h)", "titlePadding": 8, "titleX": 277}},
     "y": {"field": "m", "type": "quantitative", "scale": {"type": "log", "domain": [0.784, 25.8], "nice": false}, "axis": {"orient": "left", "values": [1, 3, 10], "format": "~g", "title": "Optical Density (OD₆₀₀)", "titlePadding": 10, "titleY": 275}},
     "yError": {"field": "e"},
     "color": {"field": "g", "type": "nominal", "scale": {"domain": ["D", "P", "S", "T"], "range": ["#F5766F", "#7CAE3C", "#1BBEC3", "#A67DC1"]}, "legend": {"title": null, "orient": "none", "legendX": 589, "legendY": 170, "symbolStrokeWidth": 3.5, "labelExpr": "datum.label == 'D' ? 'Dextran + PBS' : datum.label == 'P' ? '4-arm PEG-Mal + PBS' : datum.label == 'S' ? 'PBS' : 'TSB'"}}
    }
   },
   {
    "mark": {"type": "line", "strokeWidth": 1},
    "encoding": {
     "x": {"field": "t", "type": "quantitative", "axis": {"orient": "top", "domain": false, "ticks": false, "labels": false, "grid": false, "title": "P. aeruginosa", "titleX": 338, "titleY": -3, "titleAlign": "center", "titleBaseline": "alphabetic", "titleAngle": 0, "titleFont": "Open Sans", "titleFontStyle": "italic", "titleFontSize": 42, "titleFontWeight": "normal", "titleColor": "#000"}},
     "y": {"field": "m", "type": "quantitative", "axis": {"orient": "right", "domain": false, "ticks": false, "labels": false, "grid": false, "title": "B", "titleX": -616, "titleY": 2, "titleAlign": "left", "titleBaseline": "alphabetic", "titleAngle": 0, "titleFont": "Open Sans", "titleFontSize": 48, "titleFontWeight": "normal", "titleColor": "#000"}},
     "color": {"field": "g", "type": "nominal"}
    }
   }
  ]
 }
]
}
